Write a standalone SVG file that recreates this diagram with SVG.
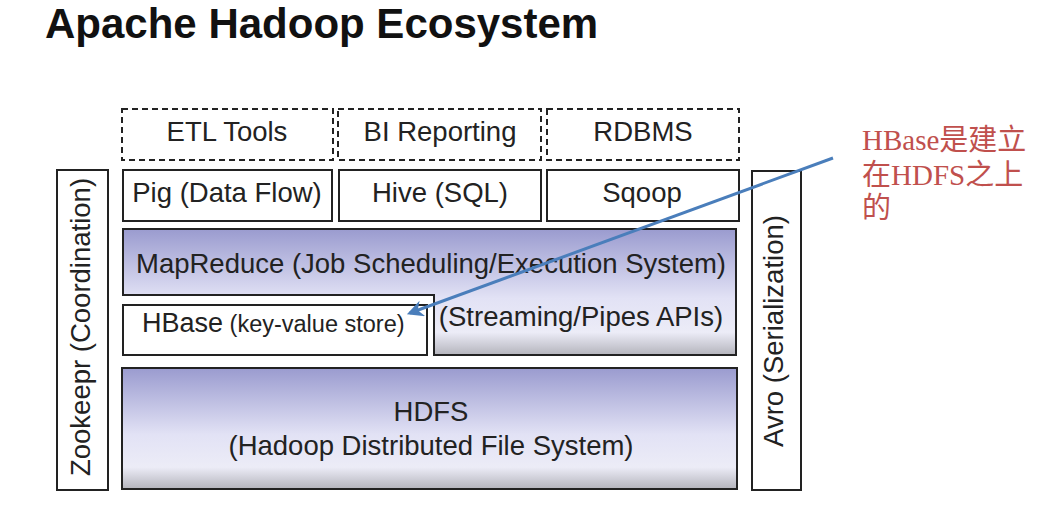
<svg xmlns="http://www.w3.org/2000/svg" width="1058" height="532" viewBox="0 0 1058 532">
<style>
.t{font-family:"Liberation Sans",Arial,sans-serif;font-size:27.5px;fill:#222;text-anchor:middle}
.box{fill:#fff;stroke:#222;stroke-width:2}
.dash{fill:#fff;stroke:#222;stroke-width:2;stroke-dasharray:6,4}
.grad{fill:url(#g);stroke:#222;stroke-width:2}
.note{font-family:"Liberation Serif","Noto Sans CJK SC",serif;font-size:29px;fill:#c0504d}
</style>
<defs>
<linearGradient id="g" x1="0" y1="0" x2="0" y2="1">
<stop offset="0" stop-color="#9a9bcf"/>
<stop offset="0.55" stop-color="#e2e2f5"/>
<stop offset="0.82" stop-color="#ececf7"/>
<stop offset="1" stop-color="#b4b4bc"/>
</linearGradient>
<marker id="ah" viewBox="0 0 10 10" refX="8" refY="5" markerWidth="5.5" markerHeight="5.5" orient="auto">
<path d="M0,0 L10,5 L0,10 L3,5 z" fill="#4a7ebb"/>
</marker>
</defs>
<rect width="1058" height="532" fill="#fff"/>
<text x="45" y="38" font-family="'Liberation Sans',Arial,sans-serif" font-weight="bold" font-size="42" fill="#111">Apache Hadoop Ecosystem</text>

<g id="etl"><rect class="dash" x="122" y="109" width="211" height="51"/><text class="t" x="227" y="141">ETL Tools</text></g>
<g id="bi"><rect class="dash" x="338" y="109" width="203" height="51"/><text class="t" x="440" y="141">BI Reporting</text></g>
<g id="rdbms"><rect class="dash" x="547" y="109" width="192" height="51"/><text class="t" x="643" y="141">RDBMS</text></g>

<g id="pig"><rect class="box" x="123" y="170" width="209" height="51"/><text class="t" x="227" y="202">Pig (Data Flow)</text></g>
<g id="hive"><rect class="box" x="339" y="170" width="202" height="51"/><text class="t" x="440" y="202">Hive (SQL)</text></g>
<g id="sqoop"><rect class="box" x="547" y="170" width="192" height="51"/><text class="t" x="642" y="202">Sqoop</text></g>

<g id="mapreduce"><path class="grad" d="M123,229 H736 V355 H434 V295 H123 Z"/><text class="t" x="431" y="273">MapReduce (Job Scheduling/Execution System)</text><text class="t" x="581" y="326">(Streaming/Pipes APIs)</text></g>

<g id="hbase"><rect class="box" x="123" y="305" width="304" height="50"/><text x="142" y="332" font-family="'Liberation Sans',Arial,sans-serif" fill="#222"><tspan font-size="27">HBase</tspan><tspan font-size="23.5"> (key-value store)</tspan></text></g>

<g id="hdfs"><rect class="grad" x="122" y="368" width="615" height="121"/><text class="t" x="431" y="421">HDFS</text><text class="t" x="431" y="455">(Hadoop Distributed File System)</text></g>

<g id="zookeeper"><rect class="box" x="57" y="170" width="51" height="320"/><text class="t" font-size="28" transform="translate(90,327) rotate(-90)">Zookeepr (Coordination)</text></g>
<g id="avro"><rect class="box" x="752" y="171" width="49" height="319"/><text class="t" transform="translate(783,331) rotate(-90)">Avro (Serialization)</text></g>

<g id="note"><text class="note" x="862" y="150">HBase是建立</text><text class="note" x="862" y="185">在HDFS之上</text><text class="note" x="862" y="218">的</text></g>

<g id="connectors"><line x1="833" y1="158" x2="410" y2="313" stroke="#4a7ebb" stroke-width="3" marker-end="url(#ah)"/></g>
</svg>
